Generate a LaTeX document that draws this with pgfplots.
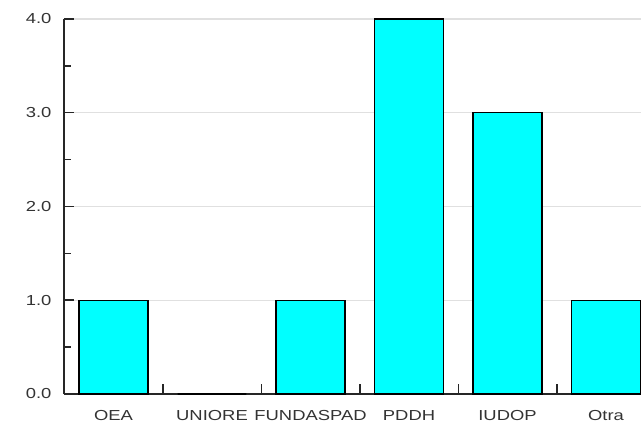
\documentclass[border=0pt]{standalone}
\usepackage{fontspec}
\setmainfont{Liberation Sans}[FakeStretch=1.27]
\usepackage{pgfplots}
\pgfplotsset{compat=1.18}
\definecolor{barfill}{HTML}{00FFFF}
\definecolor{txt}{HTML}{333333}
\begin{document}
\begin{tikzpicture}
\begin{axis}[
    scale only axis,
    width=577pt, height=375pt,
    xmin=-0.5025, xmax=5.355,
    ymin=0, ymax=4,
    axis x line*=bottom,
    axis y line*=left,
    axis line style={-, line width=1.5pt, color=black!85},
    xtick={0,1,2,3,4,5},
    xticklabels={OEA,UNIORE,FUNDASPAD,PDDH,IUDOP,Otra},
    xtick style={draw=none},
    extra x ticks={0.5,1.5,2.5,3.5,4.5},
    extra x tick labels={},
    extra x tick style={xtick style={draw=black!85, line width=1.5pt}, major tick length=10pt, grid=none},
    ytick={0,1,2,3,4},
    minor ytick={0.5,1.5,2.5,3.5},
    major tick length=10pt,
    minor tick length=7pt,
    ytick style={line width=1.5pt, color=black!85},
    tick align=inside,
    ymajorgrids,
    grid style={line width=1.2pt, color=black!12},
    yticklabel={\pgfmathprintnumber[fixed, fixed zerofill, precision=1]{\tick}},
    /pgf/number format/assume math mode=true,
    ticklabel style={font=\fontsize{14.5}{17}\selectfont, text=txt},
    yticklabel style={xshift=-9pt},
    xticklabel style={yshift=-13pt},
    clip=false,
]
\addplot[ybar, bar width=0.7, fill=barfill, draw=black, line width=1.3pt] coordinates {
    (0,1) (1,0) (2,1) (3,4) (4,3) (5,1)
};
\coordinate (O) at (rel axis cs:0,0);
\end{axis}
\pgfresetboundingbox
\path[use as bounding box] ([shift={(-64pt,-32pt)}]O) rectangle ([shift={(577pt,394pt)}]O);
\end{tikzpicture}
\end{document}
